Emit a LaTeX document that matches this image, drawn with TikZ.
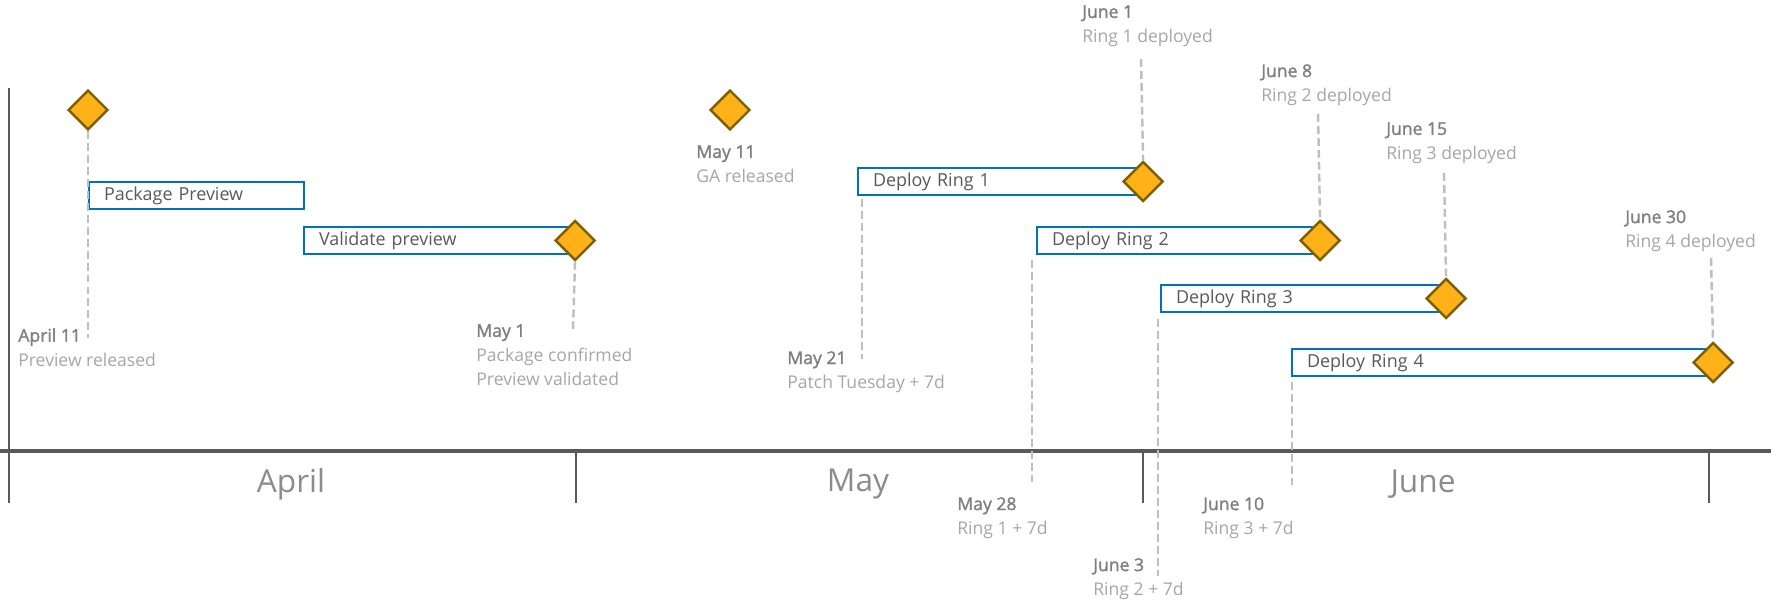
\documentclass[tikz,border=0pt]{standalone}
\usepackage{fontspec}
\setmainfont{Open Sans}
\newfontfamily\datefont[FakeBold=1.6]{Open Sans}
\usetikzlibrary{shapes.geometric,positioning}
\definecolor{axisgray}{HTML}{595959}
\definecolor{guidegray}{HTML}{BFBFBF}
\definecolor{dategray}{HTML}{7F7F7F}
\definecolor{descgray}{HTML}{A6A6A6}
\definecolor{taskgray}{HTML}{595959}
\definecolor{monthgray}{HTML}{8C8C8C}
\definecolor{boxblue}{HTML}{0070C0}
\definecolor{mgold}{HTML}{FFB217}
\definecolor{mbrown}{HTML}{7F6000}
\newcommand{\mdate}[1]{{\datefont\color{dategray}#1}}
\begin{document}
\begin{tikzpicture}[x=0.02cm,y=-0.02cm,
    axis/.style={draw=axisgray,line width=1.9pt},
    tick/.style={draw=axisgray,line width=1.3pt},
    guide/.style={draw=guidegray,line width=1.4pt,dash pattern=on 4.5pt off 2.3pt},
    taskbox/.style={draw=boxblue,line width=1.2pt,fill=white,anchor=west,minimum height=0.54cm,
        inner xsep=0.3cm,inner ysep=0pt,align=left,text=taskgray,font=\fontsize{10.2}{11}\selectfont},
    milestone/.style={diamond,draw=mbrown,fill=mgold,line width=1.4pt,minimum width=0.8cm,
        minimum height=0.8cm,inner sep=0pt},
    mlabel/.style={anchor=north west,inner sep=0pt,align=left,text=descgray,font=\fontsize{10}{13.9}\selectfont},
    month/.style={text=monthgray,font=\fontsize{18}{18}\selectfont}]
\useasboundingbox (0,0) rectangle (1771,611);

\draw[axis] (0,451) -- (1771,451);
\draw[tick] (9,88) -- (9,503);
\foreach \x in {576,1143,1709} \draw[tick] (\x,451) -- (\x,503);
\node[month] (apr) at (291,484) {April};
\node[month] (may) at (858,484) {May};
\node[month] (jun) at (1423,484) {June};

\node[taskbox,text width=3.7cm] (pkg) at (88,195.5) {Package Preview};
\node[taskbox,text width=4.8cm] (val) at (303,240.5) {Validate preview};
\node[taskbox,text width=5.08cm] (ring1) at (857,181.5) {Deploy Ring 1};
\node[taskbox,text width=5.04cm] (ring2) at (1036,240.5) {Deploy Ring 2};
\node[taskbox,text width=5.08cm] (ring3) at (1160,298.5) {Deploy Ring 3};
\node[taskbox,text width=7.8cm] (ring4) at (1291,362.5) {Deploy Ring 4};

\coordinate (e1) at (88,338);
\coordinate (e2) at (573,329);
\coordinate (s4) at (862,199);
\coordinate (e4) at (862,359);
\coordinate (s5) at (1141,59);
\coordinate (s6) at (1318,114);
\coordinate (s7) at (1444,173);
\coordinate (s8) at (1711,258);
\coordinate (s9) at (1032,260);
\coordinate (e9) at (1032,482);
\coordinate (s10) at (1158,319);
\coordinate (e10) at (1158,576);
\coordinate (s11) at (1292,382);
\coordinate (e11) at (1292,486);

\node[milestone] (apr11) at (88,110) {};
\node[milestone] (may1) at (val.east) {};
\node[milestone] (may11) at (730,110) {};
\node[milestone] (jun1) at (ring1.east) {};
\node[milestone] (jun8) at (ring2.east) {};
\node[milestone] (jun15) at (ring3.east) {};
\node[milestone] (jun30) at (ring4.east) {};

\draw[guide] (apr11.south) -- (e1);
\draw[guide] (may1.south) -- (e2);
\draw[guide] (s4) -- (e4);
\draw[guide] (s5) -- (jun1.north);
\draw[guide] (s6) -- (jun8.north);
\draw[guide] (s7) -- (jun15.north);
\draw[guide] (s8) -- (jun30.north);
\draw[guide] (s9) -- (e9);
\draw[guide] (s10) -- (e10);
\draw[guide] (s11) -- (e11);

\node[mlabel] (lapr11) at (18,328) {\mdate{April 11}\\Preview released};
\node[mlabel] (lmay1) at (476,324) {\mdate{May 1}\\Package confirmed\\Preview validated};
\node[mlabel] (lmay11) at (696,145) {\mdate{May 11}\\GA released};
\node[mlabel] (lmay21) at (787,351) {\mdate{May 21}\\Patch Tuesday + 7d};
\node[mlabel] (ljun1) at (1082,5) {\mdate{June 1}\\Ring 1 deployed};
\node[mlabel] (ljun8) at (1261,64) {\mdate{June 8}\\Ring 2 deployed};
\node[mlabel] (ljun15) at (1386,122) {\mdate{June 15}\\Ring 3 deployed};
\node[mlabel] (ljun30) at (1625,210) {\mdate{June 30}\\Ring 4 deployed};
\node[mlabel] (lmay28) at (957,497) {\mdate{May 28}\\Ring 1 + 7d};
\node[mlabel] (ljun3) at (1093,558) {\mdate{June 3}\\Ring 2 + 7d};
\node[mlabel] (ljun10) at (1203,497) {\mdate{June 10}\\Ring 3 + 7d};
\end{tikzpicture}
\end{document}
